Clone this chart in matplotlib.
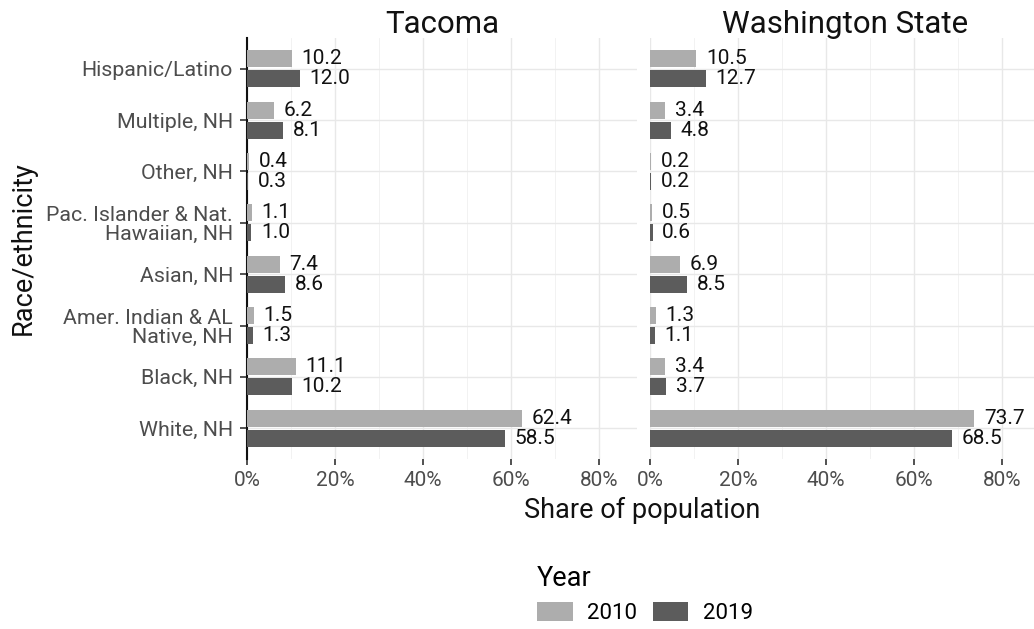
import matplotlib
matplotlib.use('Agg')
import numpy as np
import matplotlib.pyplot as plt
from matplotlib.patches import Patch
from matplotlib.ticker import MultipleLocator, FuncFormatter

plt.rcParams['font.family'] = ['Roboto', 'DejaVu Sans']

# categories from top to bottom
categories = ['Hispanic/Latino', 'Multiple, NH', 'Other, NH',
              'Pac. Islander & Nat.\nHawaiian, NH', 'Asian, NH',
              'Amer. Indian & AL\nNative, NH', 'Black, NH', 'White, NH']
tacoma_2010 = [10.2, 6.2, 0.4, 1.1, 7.4, 1.5, 11.1, 62.4]
tacoma_2019 = [12.0, 8.1, 0.3, 1.0, 8.6, 1.3, 10.2, 58.5]
wa_2010 = [10.5, 3.4, 0.2, 0.5, 6.9, 1.3, 3.4, 73.7]
wa_2019 = [12.7, 4.8, 0.2, 0.6, 8.5, 1.1, 3.7, 68.5]
panels = ['Tacoma', 'Washington State']
years = ['2010', '2019']
colors = ['#adadad', '#5c5c5c']

W, H = 1034, 629
fig = plt.figure(figsize=(W / 100, H / 100), dpi=100)

def px_axes(x0, x1, y0, y1):
    return fig.add_axes([x0 / W, 1 - y1 / H, (x1 - x0) / W, (y1 - y0) / H])

ax1 = px_axes(247, 637, 38, 459)
ax2 = px_axes(650, 1040, 38, 459)

ypos = np.arange(len(categories))
off = 0.195
bh = 0.33

for ax, title, v10, v19 in [(ax1, panels[0], tacoma_2010, tacoma_2019),
                            (ax2, panels[1], wa_2010, wa_2019)]:
    v10 = np.array(v10) / 100
    v19 = np.array(v19) / 100
    ax.barh(ypos - off, v10, height=bh, color=colors[0], zorder=3)
    ax.barh(ypos + off, v19, height=bh, color=colors[1], zorder=3)
    for y, v in zip(ypos, v10):
        ax.annotate('%.1f' % (v * 100), (v, y - off), xytext=(7, 0),
                    textcoords='offset points', va='center', ha='left',
                    fontsize=15, color='#111111', annotation_clip=False)
    for y, v in zip(ypos, v19):
        ax.annotate('%.1f' % (v * 100), (v, y + off), xytext=(7, 0),
                    textcoords='offset points', va='center', ha='left',
                    fontsize=15, color='#111111', annotation_clip=False)
    ax.set_xlim(0, 0.886)
    ax.set_ylim(len(categories) - 1 + 0.6, -0.6)
    ax.xaxis.set_major_locator(MultipleLocator(0.2))
    ax.xaxis.set_minor_locator(MultipleLocator(0.1))
    ax.xaxis.set_major_formatter(FuncFormatter(lambda x, p: '%d%%' % round(x * 100)))
    ax.set_yticks(ypos)
    ax.grid(True, which='major', color='#e8e8e8', lw=1.0, zorder=0)
    ax.grid(True, which='minor', axis='x', color='#f0f0f0', lw=0.6, zorder=0)
    for s in ax.spines.values():
        s.set_visible(False)
    ax.tick_params(axis='x', which='major', length=4, width=1.2, color='#333333',
                   labelsize=15, labelcolor='#4d4d4d', pad=5)
    ax.tick_params(axis='x', which='minor', length=0)
    ax.text(0.5, 1 + 5 / 421, title, transform=ax.transAxes, ha='center',
            va='baseline', fontsize=22.5, color='#111111')

ax1.spines['left'].set_visible(True)
ax1.spines['left'].set_linewidth(1.5)
ax1.spines['left'].set_color('#111111')
ax1.set_yticklabels(categories, fontsize=15.4, color='#4d4d4d', linespacing=1.0)
ax1.tick_params(axis='y', length=5, width=1.2, color='#333333', pad=5)
ax2.set_yticklabels([])
ax2.tick_params(axis='y', length=0)

fig.text(23 / W, 1 - 248 / H, 'Race/ethnicity', rotation=90, ha='center',
         va='center', fontsize=19.5, color='#111111')
fig.text(642 / W, 1 - 510 / H, 'Share of population', ha='center',
         va='center', fontsize=19.5, color='#111111')

handles = [Patch(facecolor=c) for c in colors]
leg = fig.legend(handles, years, title='Year', loc='upper left',
                 bbox_to_anchor=(537 / W, 1 - 565 / H), ncol=2, frameon=False,
                 fontsize=16, title_fontsize=19.5, alignment='left',
                 handlelength=1.6, handleheight=0.95, handletextpad=0.65,
                 columnspacing=0.7, borderpad=0, borderaxespad=0)
leg._legend_box.sep = 7

fig.savefig('out.png', dpi=100)
